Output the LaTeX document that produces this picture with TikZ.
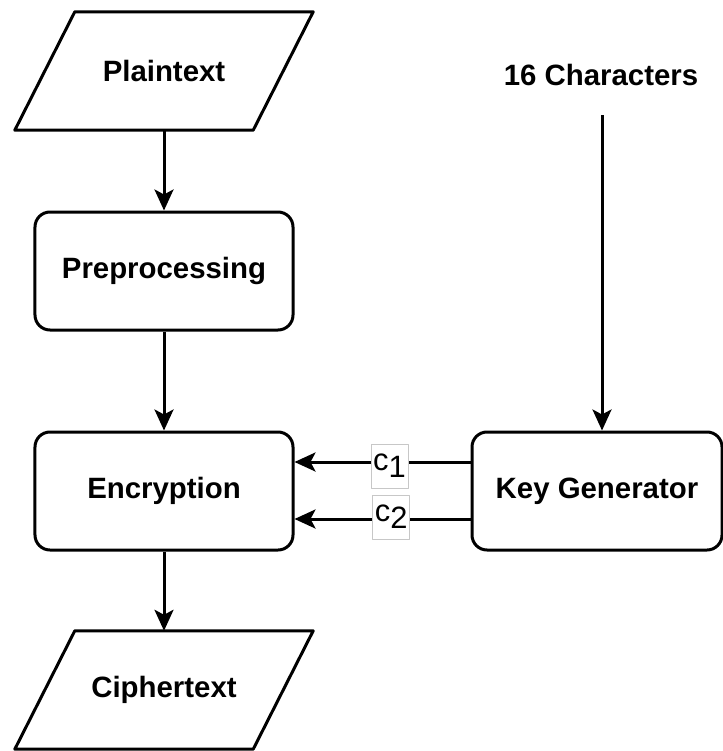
\documentclass[tikz,border=0pt]{standalone}
\usepackage{fontspec}
\setmainfont{Liberation Sans}
\usetikzlibrary{arrows.meta,calc}

\tikzset{
  stroke/.style={line width=3bp, line join=round},
  txt/.style={font=\fontsize{29.5}{32}\selectfont\bfseries, inner sep=0pt},
  iobox/.style={txt, minimum width=238bp, minimum height=118bp},
  procbox/.style={stroke, draw, rounded corners=15bp, txt,
                  minimum width=258bp, minimum height=118bp},
  flow/.style={stroke, -{Stealth[length=21bp, width=19bp, inset=5bp]}},
  keylabel/.style={draw=black!22, line width=0.8bp, fill=white,
                   font=\fontsize{31}{32}\selectfont, inner sep=1.5bp,
                   minimum width=37bp, minimum height=44bp}
}

\begin{document}
\begin{tikzpicture}[x=1bp, y=-1bp]
  \useasboundingbox (0,0) rectangle (723,751);

  % input / output parallelograms (slant of 30bp on each side of the text box)
  \node[iobox] (plain) at (164,71) {Plaintext};
  \draw[stroke] ($(plain.north west)+(30,0)$) -- ($(plain.north east)+(30,0)$)
    -- ($(plain.south east)+(-30,0)$) -- ($(plain.south west)+(-30,0)$) -- cycle;

  \node[iobox] (cipher) at (164,690) {Ciphertext};
  \draw[stroke] ($(cipher.north west)+(30,0)$) -- ($(cipher.north east)+(30,0)$)
    -- ($(cipher.south east)+(-30,0)$) -- ($(cipher.south west)+(-30,0)$) -- cycle;

  % processing steps
  \node[procbox] (prep) at (164,271) {Preprocessing};
  \node[procbox] (enc)  at (164,491) {Encryption};
  \node[procbox, minimum width=250bp] (keygen) at (597,491) {Key Generator};

  \node[txt] (chars) at (601,75) {16 Characters};
  \coordinate (charsout) at (602,115);

  % main flow
  \draw[flow] (plain.south) -- (prep.north);
  \draw[flow] (prep.south) -- (enc.north);
  \draw[flow] (enc.south) -- (cipher.north);
  \draw[flow] (charsout) -- (charsout |- keygen.north);

  % key components
  \coordinate (k1) at ($(keygen.west)+(0,-29)$);
  \coordinate (k2) at ($(keygen.west)+(0,28)$);
  \draw[flow] (k1) -- (k1 -| enc.east)
    node[keylabel, pos=0.46, yshift=-4bp] (c1) {c\raisebox{-0.45ex}{1}};
  \draw[flow] (k2) -- (k2 -| enc.east)
    node[keylabel, pos=0.45, yshift=2bp] (c2) {c\raisebox{-0.45ex}{2}};
\end{tikzpicture}
\end{document}
